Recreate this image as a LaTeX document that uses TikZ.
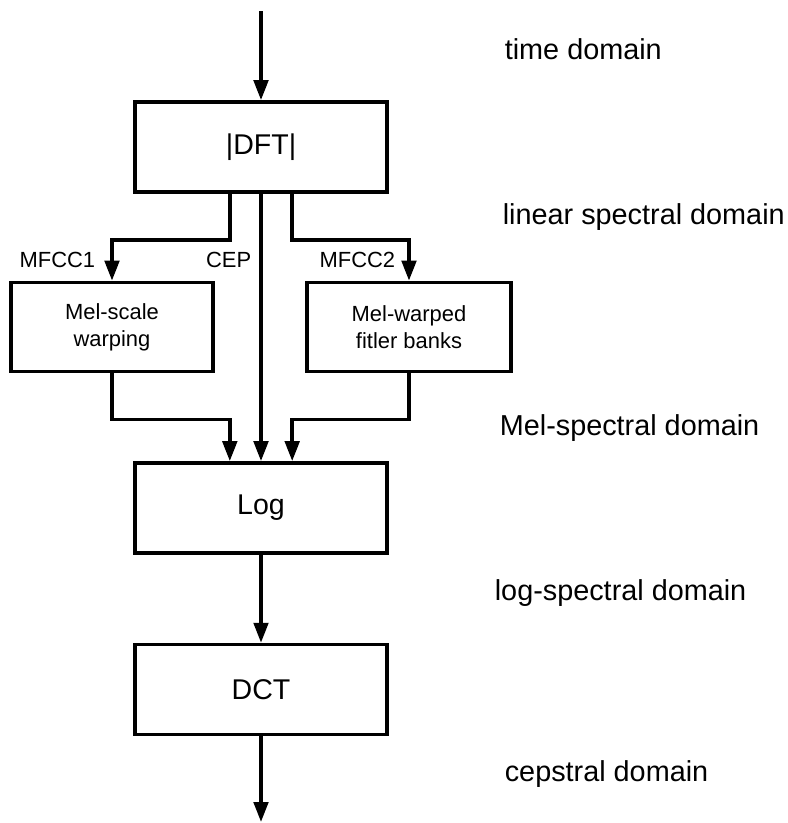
\documentclass[tikz,border=0pt]{standalone}
\usepackage{fontspec}
\setmainfont{Liberation Sans}
\usepackage{tikz}
\usetikzlibrary{arrows.meta}

\begin{document}
\begin{tikzpicture}[-,>={Triangle[length=0.5cm,width=0.36cm]},line width=2.6pt,node distance=4.5cm,
	main node/.style={rectangle, draw, minimum width=6.3cm, minimum height=2.25cm, font=\fontsize{20.3}{24}\selectfont},
	small node/.style={rectangle, draw, minimum width=5.05cm, minimum height=2.225cm, align=center, font=\fontsize{15.6}{19.2}\selectfont},
	domain label/.style={anchor=base west, inner sep=0pt, font=\fontsize{20.5}{24}\selectfont},
	branch label/.style={anchor=base east, inner sep=0pt, font=\fontsize{15.6}{19}\selectfont}]
			\useasboundingbox (0,0) rectangle (19.675,-20.575);
			
			% Nodes
			\node[main node] (1) at (6.525,-3.675) {|DFT|};
			\node[small node] (2) [below of=1, xshift=-3.725cm] {Mel-scale\\warping};
			\node[small node] (3) [below of=1, xshift=3.7cm, minimum width=5.1cm] {Mel-warped\\fitler banks};
			\node[main node] (4) [below of=1, yshift=-4.525cm] {Log};
			\node[main node] (5) [below of=4, yshift=-0.04cm] {DCT};
			
			\coordinate (in) at (6.525,-0.275);
			\coordinate (out) at (6.525,-20.55);
			
			% Signal paths
			\draw[->] (in) -- (1);
			\draw[->] ([xshift=-0.78cm]1.south) -- ++(0,-1.15) -| (2.north);
			\draw[->] (1) -- (4);
			\draw[->] ([xshift=0.78cm]1.south) -- ++(0,-1.15) -| (3.north);
			\draw[->] (2.south) -- ++(0,-1.15) -| ([xshift=-0.78cm]4.north);
			\draw[->] (3.south) -- ++(0,-1.15) -| ([xshift=0.78cm]4.north);
			\draw[->] (4) -- (5);
			\draw[->] (5) -- (out);
			
			% Branch names
			\node[branch label] (6) at (2.425,-6.675) {MFCC1};
			\node[branch label] (7) at (6.325,-6.675) {CEP};
			\node[branch label] (8) at (9.925,-6.675) {MFCC2};
			
			% Domains
			\node[domain label] (9) at (12.575,-1.475) {time domain};
			\node[domain label] (10) at (12.525,-5.6) {linear spectral domain};
			\node[domain label] (11) at (12.45,-10.875) {Mel-spectral domain};
			\node[domain label] (12) at (12.325,-15.0) {log-spectral domain};
			\node[domain label] (13) at (12.575,-19.525) {cepstral domain};
			
		\end{tikzpicture}
\end{document}
